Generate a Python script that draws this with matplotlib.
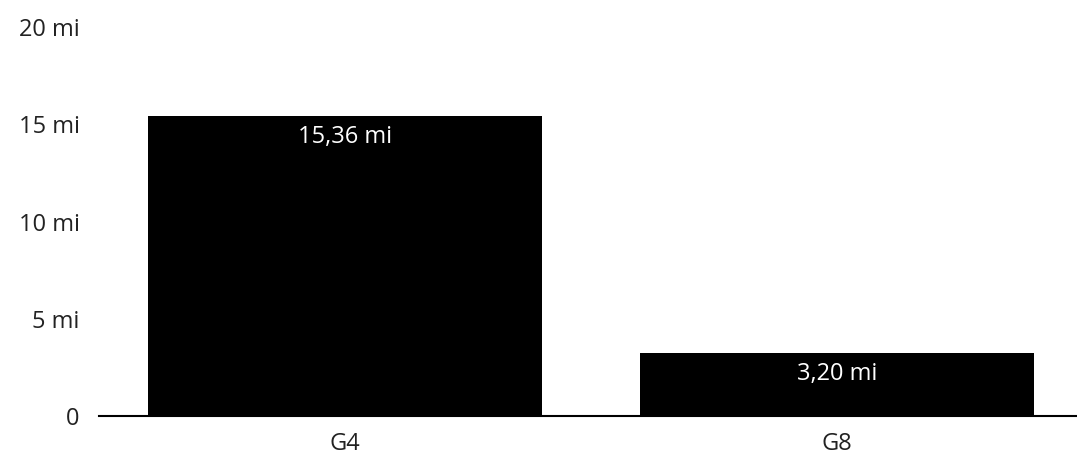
import matplotlib
matplotlib.use("Agg")
import matplotlib.pyplot as plt

categories = ["G4", "G8"]
values = [15.36, 3.20]
yticks = [0, 5, 10, 15, 20]
ytick_labels = ["0", "5 mi", "10 mi", "15 mi", "20 mi"]

plt.rcParams['font.family'] = ['Open Sans', 'DejaVu Sans']

fig = plt.figure(figsize=(10.77, 4.56), dpi=100)
ax = fig.add_axes([99/1077, 39.5/456, 1 - 99/1077, 389.5/456])

x = range(len(categories))
bars = ax.bar(x, values, width=0.8, color='black')

# value labels inside the bars, near the top
for b, v in zip(bars, values):
    lbl = ('%.2f' % v).replace('.', ',') + ' mi'
    ax.annotate(lbl, (b.get_x() + b.get_width() / 2, b.get_height()),
                xytext=(0, -5.5), textcoords='offset points',
                ha='center', va='top', color='white', fontsize=17)

ax.set_xlim(-0.5, -0.5 + 978/492)
ax.set_ylim(0, 20)
ax.set_xticks(list(x))
ax.set_xticklabels(categories)
ax.set_yticks(yticks)
ax.set_yticklabels(ytick_labels)
ax.tick_params(axis='both', length=0, labelsize=17, colors='#222222')
ax.tick_params(axis='y', pad=14)
ax.tick_params(axis='x', pad=11)

for s in ['top', 'right', 'left']:
    ax.spines[s].set_visible(False)
ax.spines['bottom'].set_linewidth(1.5)
ax.spines['bottom'].set_color('black')

fig.savefig("out.png", dpi=100)
